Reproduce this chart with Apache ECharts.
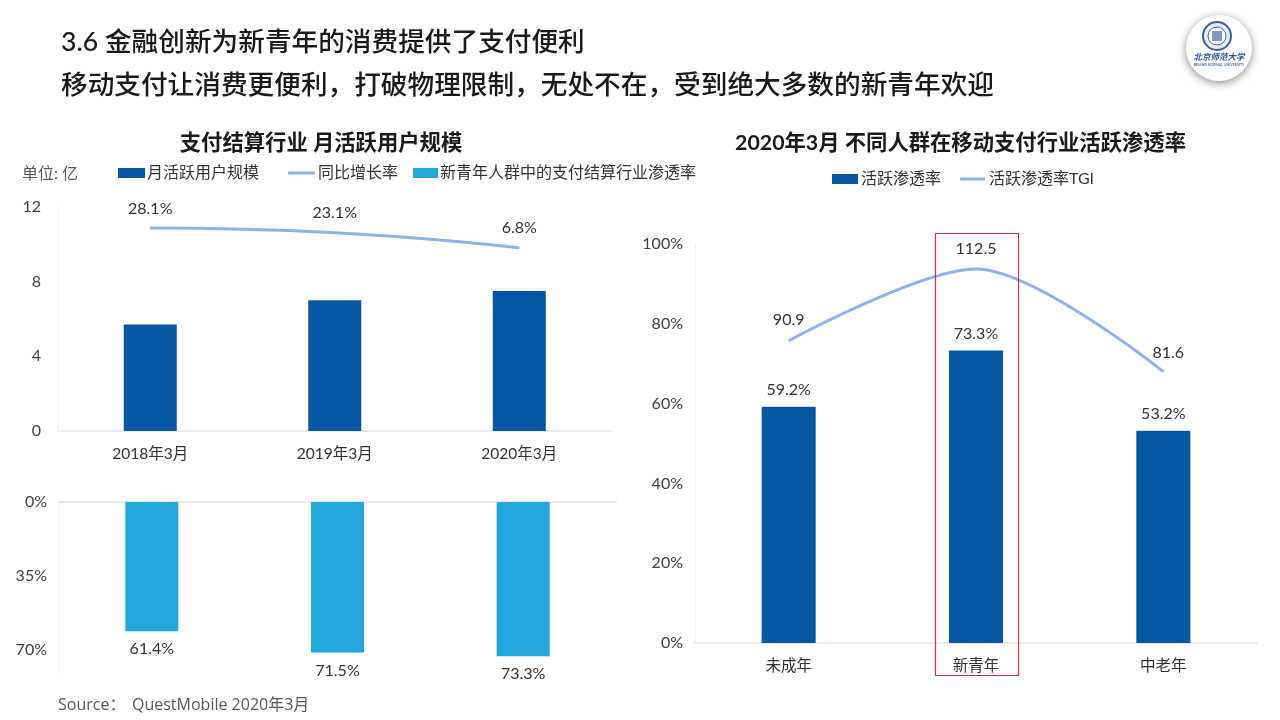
<!DOCTYPE html>
<html><head><meta charset="utf-8">
<style>html,body{margin:0;padding:0;background:#fff}#c{width:1280px;height:720px}</style>
<script src="https://cdn.jsdelivr.net/npm/echarts@6/dist/echarts.min.js"></script>
</head><body><div id="c"></div>
<script>
const years = ['2018年3月','2019年3月','2020年3月'];
const mau = [5.7, 7.0, 7.5];
const growth = [28.1, 23.1, 6.8];
const youthPenetration = [61.4, 71.5, 73.3];
const groups = ['未成年','新青年','中老年'];
const activeRate = [59.2, 73.3, 53.2];
const tgi = [90.9, 112.5, 81.6];
const headline1 = '3.6 金融创新为新青年的消费提供了支付便利';
const headline2 = '移动支付让消费更便利，打破物理限制，无处不在，受到绝大多数的新青年欢迎';
const chartTitleL = '支付结算行业 月活跃用户规模';
const chartTitleR = '2020年3月 不同人群在移动支付行业活跃渗透率';

const FF = 'Lato, "Noto Sans CJK SC", sans-serif';
const DARK='#0756A3', LINE='#8DB3EA', SKY='#22A6DB', TXT='#333333', AX='#E6EBF1';
const lbl = {color:TXT,fontSize:16,fontFamily:FF};
const yAxisBase = {
  type:'value', splitLine:{show:false}, axisTick:{show:false},
  axisLine:{show:true,lineStyle:{color:'#E8F0FA',width:1}},
  axisLabel:{...lbl,color:'#404040',margin:12}
};
const hiddenY = {type:'value',show:false,splitLine:{show:false}};
const catAxis = (g,data,show)=>({
  type:'category',gridIndex:g,data,axisTick:{show:false},
  axisLine:{lineStyle:{color:AX,width:2}},
  axisLabel:show?{...lbl,fontSize:15.5,margin:15}:{show:false}
});
const legendText = {color:TXT,fontSize:16,fontFamily:FF};
const legendItem = (name,left,top,w,h,icon,pad)=>({
  left,top,padding:0,itemWidth:w,itemHeight:h,data:[{name,icon}],
  textStyle:{...legendText,padding:[0,0,0,pad]}
});
const chart = echarts.init(document.getElementById('c'),null,{renderer:'canvas'});
chart.setOption({
  animation:false,
  backgroundColor:'#fff',
  textStyle:{fontFamily:FF},
  title:[
    {text:chartTitleL,left:316,textAlign:'center',top:127,textStyle:{fontSize:21.33,fontWeight:'bold',color:'#1a1a1a',fontFamily:FF}},
    {text:chartTitleR,left:955.5,textAlign:'center',top:127,textStyle:{fontSize:21.33,fontWeight:'bold',color:'#1a1a1a',fontFamily:FF}}
  ],
  legend:[
    legendItem('月活跃用户规模',118,165,27,10,'rect',-3),
    legendItem('同比增长率',288,165,27,3,'roundRect',-2),
    legendItem('新青年人群中的支付结算行业渗透率',413,165,25,10,'rect',-3),
    legendItem('活跃渗透率',832,171,26,10,'rect',-2),
    legendItem('活跃渗透率TGI',960,171,25,3,'roundRect',-1)
  ],
  grid:[
    {left:58,top:207,width:553.5,height:224},
    {left:59,top:502,width:557,height:170.5},
    {left:695,top:244,width:562,height:399}
  ],
  xAxis:[catAxis(0,years,true),
    {...catAxis(1,years,false),position:'top'},
    catAxis(2,groups,true)],
  yAxis:[
    {...yAxisBase,gridIndex:0,min:0,max:12,interval:4,axisLabel:{...yAxisBase.axisLabel,margin:17}},
    {...hiddenY,gridIndex:0,min:-192,max:51},
    {...yAxisBase,gridIndex:1,min:0,max:81,interval:35,inverse:true,
     axisLabel:{...yAxisBase.axisLabel,showMaxLabel:false,formatter:'{value}%'}},
    {...yAxisBase,gridIndex:2,min:0,max:100,interval:20,axisLabel:{...yAxisBase.axisLabel,formatter:'{value}%'}},
    {...hiddenY,gridIndex:2,min:0,max:120}
  ],
  series:[
    {name:'月活跃用户规模',type:'bar',xAxisIndex:0,yAxisIndex:0,data:mau,barWidth:53,itemStyle:{color:DARK}},
    {name:'同比增长率',type:'line',xAxisIndex:0,yAxisIndex:1,data:growth,smooth:true,symbol:'circle',symbolSize:1,
     lineStyle:{color:LINE,width:3},itemStyle:{color:LINE},
     label:{show:true,position:'top',distance:11,...lbl,formatter:p=>p.value.toFixed(1)+'%'}},
    {name:'新青年人群中的支付结算行业渗透率',type:'bar',xAxisIndex:1,yAxisIndex:2,data:youthPenetration,barWidth:53,itemStyle:{color:SKY},
     label:{show:true,position:'bottom',distance:10,...lbl,formatter:p=>p.value.toFixed(1)+'%'}},
    {name:'活跃渗透率',type:'bar',xAxisIndex:2,yAxisIndex:3,data:activeRate,barWidth:54,itemStyle:{color:DARK},
     label:{show:true,position:'top',distance:9,...lbl,formatter:p=>p.value.toFixed(1)+'%'}},
    {name:'活跃渗透率TGI',type:'line',xAxisIndex:2,yAxisIndex:4,data:tgi,smooth:0.3,symbol:'circle',symbolSize:1,
     lineStyle:{color:LINE,width:3},itemStyle:{color:LINE},
     label:{show:true,position:'top',distance:12,...lbl,formatter:p=>p.value.toFixed(1)},
     labelLayout:p=>p.dataIndex===2?{dx:5,dy:2}:{}}
  ],
  graphic:[
    {type:'text',left:61,top:29,style:{text:headline1,font:'500 26.67px '+FF,fill:'#1a1a1a'}},
    {type:'text',left:61,top:72,style:{text:headline2,font:'500 26.67px '+FF,fill:'#1a1a1a'}},
    {type:'text',left:22,top:166,style:{text:'单位: 亿',font:'16px '+FF,fill:'#595959'}},
    {type:'text',left:58,top:697,style:{text:'Source：',font:'16px "Open Sans", "Noto Sans CJK SC"',fill:'#595959'}},
    {type:'text',left:132,top:697,style:{text:'QuestMobile 2020年3月',font:'16px "Open Sans", "Noto Sans CJK SC"',fill:'#595959'}},
    {type:'rect',shape:{x:935.5,y:233.5,width:83,height:442},style:{fill:'none',stroke:'#C8383C',lineWidth:1.2},z:10},
    {type:'circle',shape:{cx:1219,cy:48,r:33},style:{fill:'#fff',shadowBlur:8,shadowColor:'rgba(0,0,0,0.45)',shadowOffsetY:2},z:20},
    {type:'circle',shape:{cx:1217,cy:36,r:14},style:{fill:'#E8EEF6',stroke:'#3D5FA0',lineWidth:2},z:21},
    {type:'circle',shape:{cx:1217,cy:36,r:9},style:{fill:'#fff',stroke:'#3D5FA0',lineWidth:1},z:21},
    {type:'rect',shape:{x:1212,y:31,width:10,height:10},style:{fill:'#7F97C4'},z:21},
    {type:'text',x:1219,y:57,style:{text:'北京师范大学',font:'italic bold 8.5px "Noto Sans CJK SC"',fill:'#2E4F98',align:'center',verticalAlign:'middle'},z:21},
    {type:'text',x:1219,y:65,style:{text:'BEIJING NORMAL UNIVERSITY',font:'bold 3.5px '+FF,fill:'#5570A8',align:'center',verticalAlign:'middle'},z:21}
  ]
});
</script></body></html>
